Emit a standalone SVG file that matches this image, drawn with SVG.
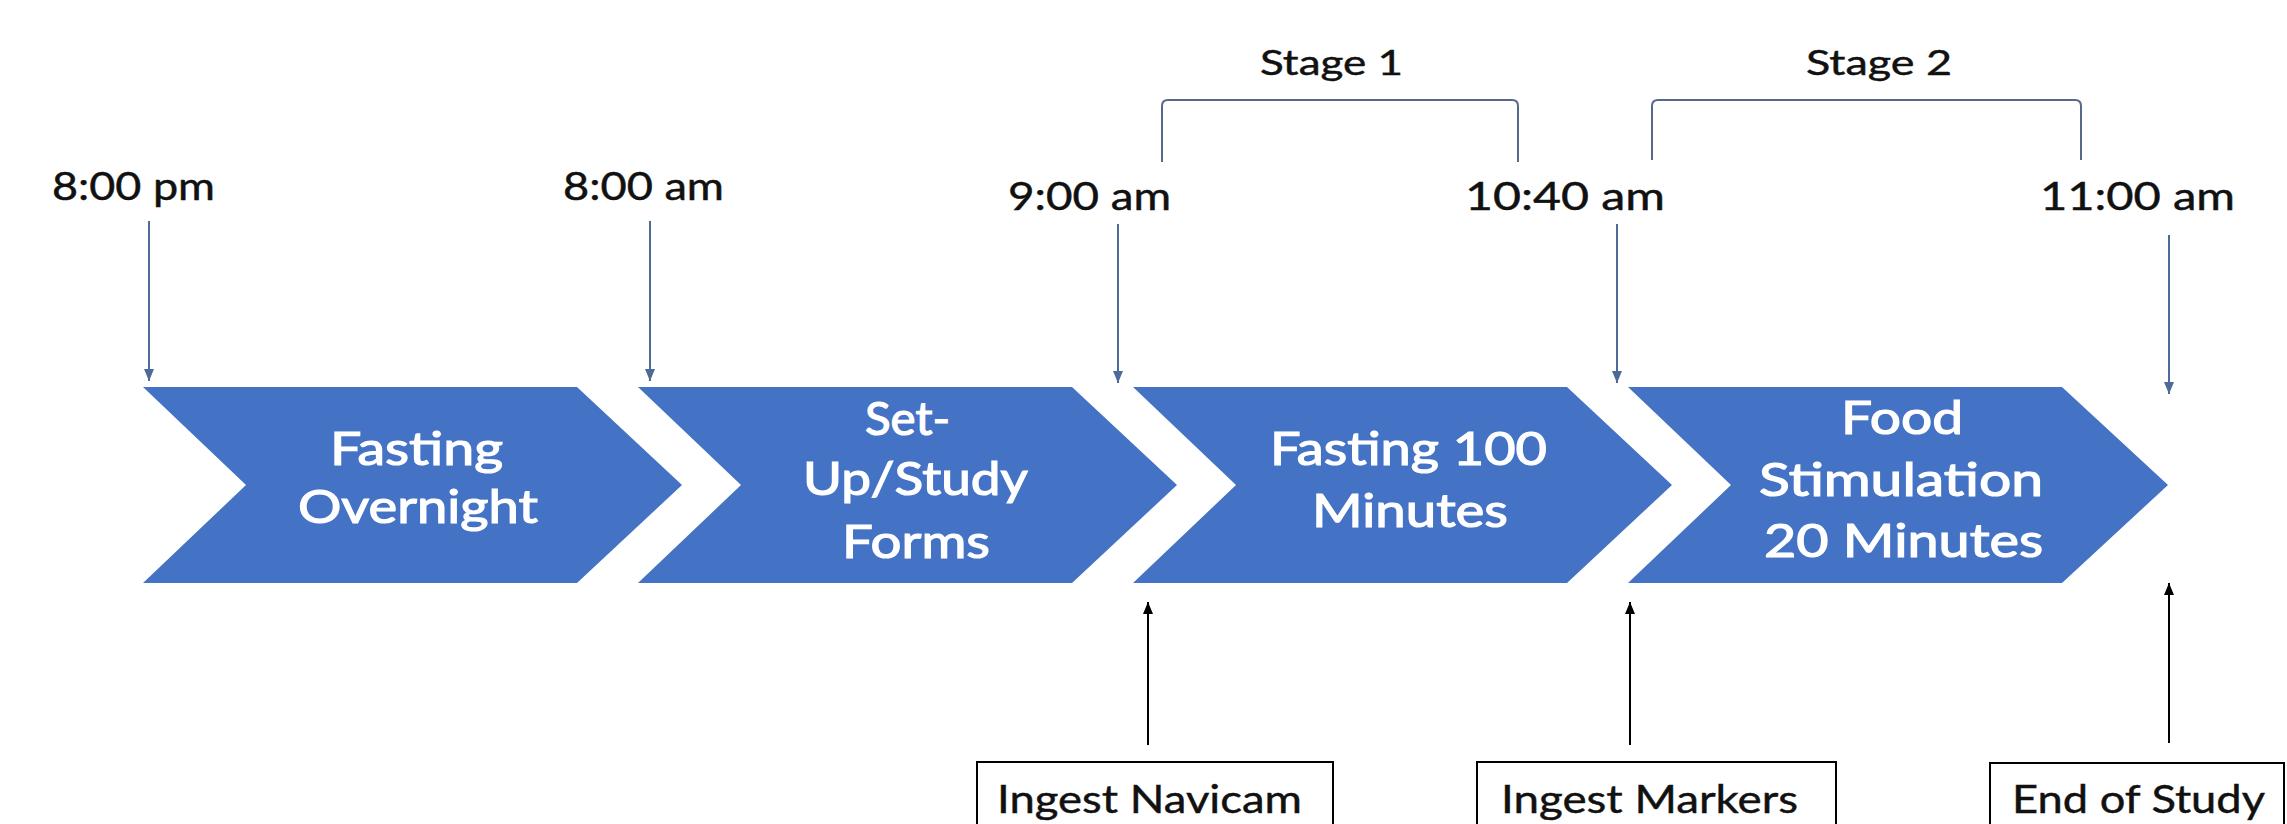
<svg xmlns="http://www.w3.org/2000/svg" width="2287" height="824" viewBox="0 0 2287 824">
  <style>
    .chev { fill: #4472C4; }
    .t { font-family: Lato, "Open Sans", "Liberation Sans", sans-serif; fill: #111; stroke: #111; stroke-width: 0.45px; }
    .time { font-size: 38px; }
    .stage { font-size: 35px; }
    .inner { font-size: 46px; fill: #ffffff; stroke: #ffffff; stroke-width: 1.2px; }
    .boxtxt { font-size: 39px; }
    .tick { stroke: #4d6a99; stroke-width: 2; fill: none; marker-end: url(#head-blue); }
    .up { stroke: #000; stroke-width: 2; fill: none; marker-end: url(#head-black); }
    .bracket { stroke: #56698a; stroke-width: 2; fill: none; }
    .box { fill: #fff; stroke: #000; stroke-width: 2; }
  </style>
  <defs>
    <marker id="head-blue" viewBox="0 0 12 10" refX="12" refY="5" markerWidth="12" markerHeight="10" markerUnits="userSpaceOnUse" orient="auto">
      <path d="M0,0 L12,5 L0,10 z" fill="#4d6a99"/>
    </marker>
    <marker id="head-black" viewBox="0 0 12 10" refX="12" refY="5" markerWidth="12" markerHeight="10" markerUnits="userSpaceOnUse" orient="auto">
      <path d="M0,0 L12,5 L0,10 z" fill="#000"/>
    </marker>
  </defs>

  <rect width="2287" height="824" fill="#ffffff"/>

  <!-- time labels -->
  <g id="times">
    <text class="t time" x="52" y="200" textLength="163" lengthAdjust="spacingAndGlyphs">8:00 pm</text>
    <text class="t time" x="563" y="200" textLength="161" lengthAdjust="spacingAndGlyphs">8:00 am</text>
    <text class="t time" x="1008" y="210" textLength="163" lengthAdjust="spacingAndGlyphs">9:00 am</text>
    <text class="t time" x="1465" y="210" textLength="200" lengthAdjust="spacingAndGlyphs">10:40 am</text>
    <text class="t time" x="2040" y="210" textLength="195" lengthAdjust="spacingAndGlyphs">11:00 am</text>
  </g>

  <!-- stage brackets -->
  <g id="stage1">
    <text class="t stage" x="1260" y="75" textLength="143" lengthAdjust="spacingAndGlyphs">Stage 1</text>
    <path class="bracket" d="M1162,162 L1162,106 Q1162,100 1168,100 L1512,100 Q1518,100 1518,106 L1518,162"/>
  </g>
  <g id="stage2">
    <text class="t stage" x="1806" y="75" textLength="146" lengthAdjust="spacingAndGlyphs">Stage 2</text>
    <path class="bracket" d="M1652,160 L1652,106 Q1652,100 1658,100 L2075,100 Q2081,100 2081,106 L2081,160"/>
  </g>

  <!-- process chevrons -->
  <g id="fasting-overnight">
    <polygon class="chev" points="143,387 577,387 682,485 577,583 143,583 246,485"/>
    <text class="t inner" x="330" y="465" textLength="173" lengthAdjust="spacingAndGlyphs">Fasting</text>
    <text class="t inner" x="298" y="523" textLength="240" lengthAdjust="spacingAndGlyphs">Overnight</text>
  </g>
  <g id="setup-forms">
    <polygon class="chev" points="638,387 1072,387 1177,485 1072,583 638,583 741,485"/>
    <text class="t inner" x="865" y="435" textLength="85" lengthAdjust="spacingAndGlyphs">Set-</text>
    <text class="t inner" x="803" y="495" textLength="225" lengthAdjust="spacingAndGlyphs">Up/Study</text>
    <text class="t inner" x="842" y="558" textLength="148" lengthAdjust="spacingAndGlyphs">Forms</text>
  </g>
  <g id="fasting-100">
    <polygon class="chev" points="1133,387 1567,387 1672,485 1567,583 1133,583 1236,485"/>
    <text class="t inner" x="1270" y="465" textLength="277" lengthAdjust="spacingAndGlyphs">Fasting 100</text>
    <text class="t inner" x="1312" y="527" textLength="196" lengthAdjust="spacingAndGlyphs">Minutes</text>
  </g>
  <g id="food-stimulation">
    <polygon class="chev" points="1628,387 2062,387 2168,485 2062,583 1628,583 1731,485"/>
    <text class="t inner" x="1841" y="434" textLength="122" lengthAdjust="spacingAndGlyphs">Food</text>
    <text class="t inner" x="1759" y="496" textLength="284" lengthAdjust="spacingAndGlyphs">Stimulation</text>
    <text class="t inner" x="1764" y="557" textLength="279" lengthAdjust="spacingAndGlyphs">20 Minutes</text>
  </g>

  <!-- event boxes -->
  <g id="ingest-navicam">
    <rect class="box" x="977" y="762" width="356" height="100"/>
    <text class="t boxtxt" x="997" y="813" textLength="305" lengthAdjust="spacingAndGlyphs">Ingest Navicam</text>
  </g>
  <g id="ingest-markers">
    <rect class="box" x="1477" y="762" width="359" height="100"/>
    <text class="t boxtxt" x="1501" y="813" textLength="297" lengthAdjust="spacingAndGlyphs">Ingest Markers</text>
  </g>
  <g id="end-of-study">
    <rect class="box" x="1990" y="763" width="294" height="100"/>
    <text class="t boxtxt" x="2012" y="813" textLength="253" lengthAdjust="spacingAndGlyphs">End of Study</text>
  </g>

  <!-- connectors -->
  <g id="connectors">
    <line class="tick" x1="149" y1="221" x2="149" y2="381"/>
    <line class="tick" x1="650" y1="221" x2="650" y2="381"/>
    <line class="tick" x1="1118" y1="224" x2="1118" y2="383"/>
    <line class="tick" x1="1617" y1="224" x2="1617" y2="383"/>
    <line class="tick" x1="2169" y1="235" x2="2169" y2="394"/>
    <line class="up" x1="1148" y1="745" x2="1148" y2="602"/>
    <line class="up" x1="1630" y1="745" x2="1630" y2="602"/>
    <line class="up" x1="2169" y1="743" x2="2169" y2="583"/>
  </g>
</svg>
